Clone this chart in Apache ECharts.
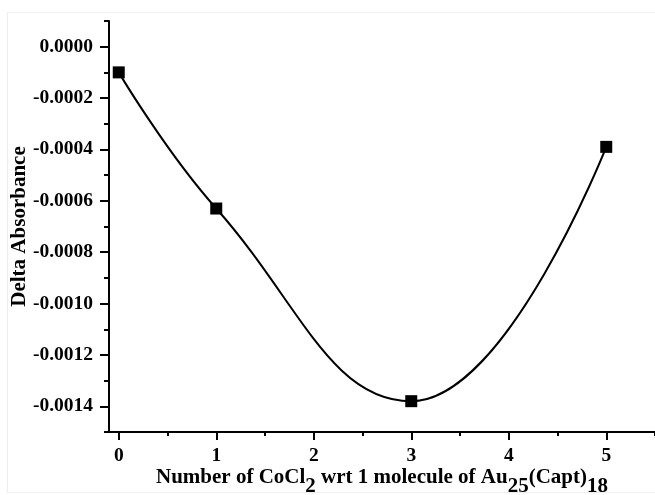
<!DOCTYPE html>
<html>
<head>
<meta charset="utf-8">
<script src="https://cdn.jsdelivr.net/npm/echarts@6/dist/echarts.min.js"></script>
<style>
html,body{margin:0;padding:0;background:#fff;}
#chart{width:655px;height:495px;}
</style>
</head>
<body>
<div id="chart"></div>
<script>
// Data
const cocl2Counts = [0, 1, 3, 5];
const deltaAbsorbance = [-0.0001, -0.00063, -0.00138, -0.00039];
const xMajorTicks = [0, 1, 2, 3, 4, 5];
const xMinorTicks = [0.5, 1.5, 2.5, 3.5, 4.5, 5.5];
const yMajorTicks = [0, -0.0002, -0.0004, -0.0006, -0.0008, -0.0010, -0.0012, -0.0014];
const yMinorTicks = [0.0001, -0.0001, -0.0003, -0.0005, -0.0007, -0.0009, -0.0011, -0.0013, -0.0015];

const FONT = '"Liberation Serif", "Times New Roman", serif';
const chart = echarts.init(document.getElementById('chart'), null, {renderer: 'canvas'});

const xMin = -0.1, xMax = 5.5, yMin = -0.0015, yMax = 0.0001;

const option = {
  backgroundColor: '#ffffff',
  animation: false,
  graphic: [{
    type: 'rect',
    shape: {x: 7.5, y: 12.5, width: 660, height: 480},
    style: {fill: 'none', stroke: '#eeeeee', lineWidth: 1},
    silent: true
  }],
  grid: {left: 109, top: 21, right: 0, bottom: 63, containLabel: false, outerBoundsMode: 'none'},
  xAxis: [{
    type: 'value', min: xMin, max: xMax, position: 'bottom',
    axisLine: {show: true, onZero: false, lineStyle: {color: '#000', width: 2}},
    axisTick: {show: true, inside: false, length: 8, lineStyle: {color: '#000', width: 2}, customValues: xMajorTicks},
    axisLabel: {show: true, margin: 14, customValues: xMajorTicks, color: '#000',
      fontFamily: FONT, fontWeight: 'bold', fontSize: 19.5,
      formatter: v => String(Math.round(v))},
    splitLine: {show: false},
    name: '{a|Number of CoCl}{s|2}{a| wrt 1 molecule of Au}{s|25}{a|(Capt)}{s|18}',
    nameLocation: 'middle', nameGap: 35, nameMoveOverlap: false,
    nameTextStyle: {
      color: '#000', fontFamily: FONT, fontWeight: 'bold', fontSize: 21,
      rich: {
        a: {color: '#000', fontFamily: FONT, fontWeight: 'bold', fontSize: 21, verticalAlign: 'top', lineHeight: 24},
        s: {color: '#000', fontFamily: FONT, fontWeight: 'bold', fontSize: 21, verticalAlign: 'top', lineHeight: 24, padding: [9, 0, 0, 0]}
      }
    }
  }, {
    type: 'value', min: xMin, max: xMax, position: 'bottom', offset: 0,
    axisLine: {show: false, onZero: false},
    axisTick: {show: true, inside: false, length: 4, lineStyle: {color: '#000', width: 2}, customValues: xMinorTicks},
    axisLabel: {show: false},
    splitLine: {show: false}
  }],
  yAxis: [{
    type: 'value', min: yMin, max: yMax, position: 'left',
    axisLine: {show: true, onZero: false, lineStyle: {color: '#000', width: 2}},
    axisTick: {show: true, inside: false, length: 9, lineStyle: {color: '#000', width: 2}, customValues: yMajorTicks},
    axisLabel: {show: true, margin: 16, customValues: yMajorTicks, color: '#000',
      fontFamily: FONT, fontWeight: 'bold', fontSize: 19.5,
      formatter: v => (Math.abs(v) < 1e-12 ? 0 : v).toFixed(4)},
    splitLine: {show: false},
    name: 'Delta Absorbance', nameLocation: 'middle', nameGap: 79, nameRotate: 90, nameMoveOverlap: false,
    nameTextStyle: {color: '#000', fontFamily: FONT, fontWeight: 'bold', fontSize: 21}
  }, {
    type: 'value', min: yMin, max: yMax, position: 'left', offset: 0,
    axisLine: {show: false, onZero: false},
    axisTick: {show: true, inside: false, length: 5, lineStyle: {color: '#000', width: 2}, customValues: yMinorTicks},
    axisLabel: {show: false},
    splitLine: {show: false}
  }],
  series: [{
    type: 'line',
    xAxisIndex: 0, yAxisIndex: 0,
    data: cocl2Counts.map((x, i) => [x, deltaAbsorbance[i]]),
    smooth: 0.45,
    symbol: 'rect', symbolSize: 12,
    itemStyle: {color: '#000'},
    lineStyle: {color: '#000', width: 2},
    z: 5
  }]
};
chart.setOption(option);
</script>
</body>
</html>
